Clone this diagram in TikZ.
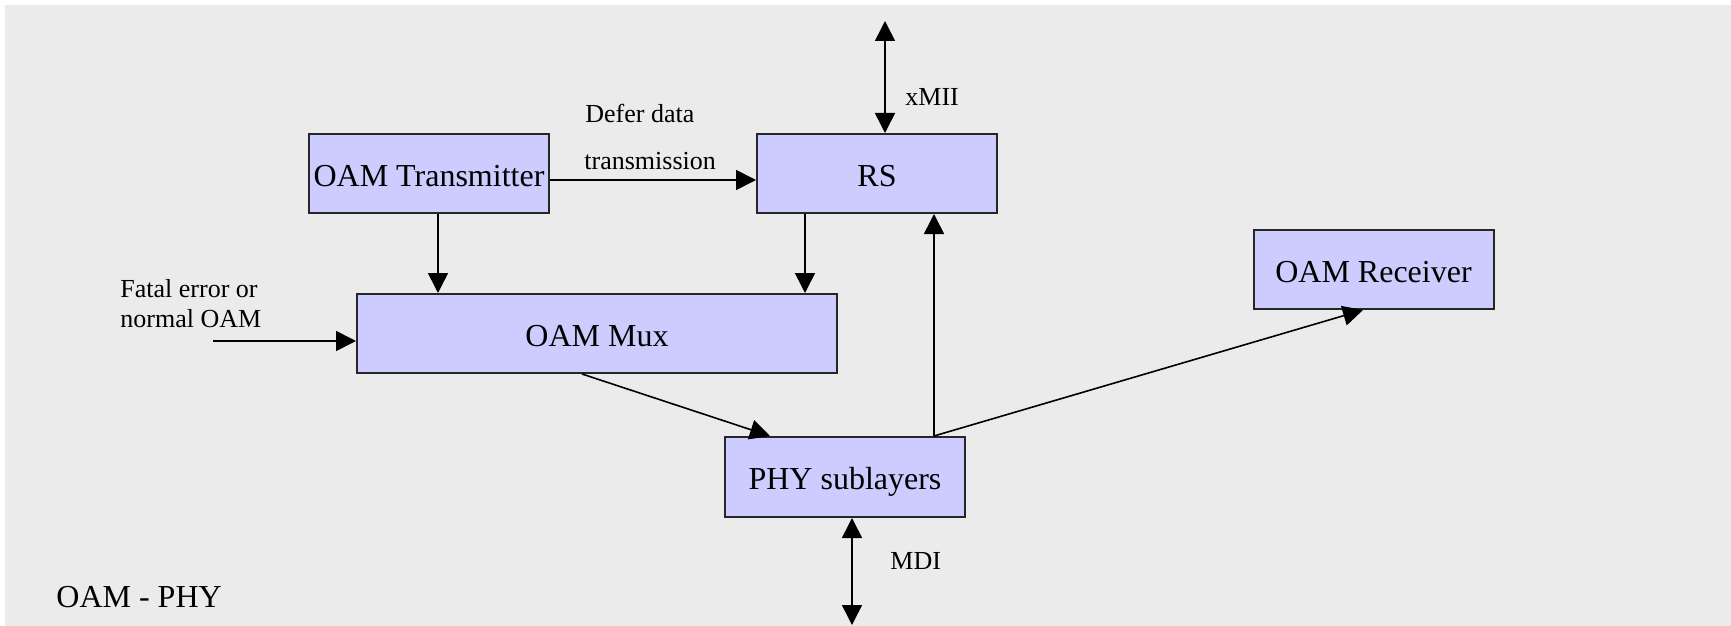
\documentclass[tikz,border=0pt]{standalone}
\usepackage{fontspec}
\setmainfont{Liberation Serif}
\usetikzlibrary{arrows.meta}
\definecolor{panel}{HTML}{EBEBEB}
\definecolor{boxfill}{HTML}{CCCCFF}
\definecolor{boxline}{HTML}{262626}
\tikzset{
  block/.style={draw=boxline, fill=boxfill, line width=1pt, rectangle,
    minimum width=120pt, minimum height=39.5pt, inner sep=0pt,
    text height=13pt, text depth=0.5pt,
    font=\fontsize{16}{19}\selectfont},
  arr/.style={line width=0.8pt, -{Triangle[length=10pt,width=10pt]}},
  darr/.style={line width=0.8pt, {Triangle[length=10pt,width=10pt]}-{Triangle[length=10pt,width=10pt]}},
  lbl/.style={anchor=west, inner sep=0pt, font=\fontsize{13}{15}\selectfont},
}
\begin{document}
\begin{tikzpicture}[x=0.5pt, y=-0.5pt]
  \useasboundingbox (0,0) rectangle (1731,626);
  \fill[white] (0,0) rectangle (1731,626);
  \fill[panel] (5,5) rectangle (1731,626);

  % blocks
  \node[block] (tx)  at (429,173.5)  {OAM Transmitter};
  \node[block] (rs)  at (877,173.5)  {RS};
  \node[block, minimum width=240pt] (mux) at (597,333.5) {OAM Mux};
  \node[block] (rx)  at (1373.5,269.5) {OAM Receiver};
  \node[block, minimum height=40pt] (phy) at (845,477) {PHY sublayers};

  % helper coordinates for connector positions
  \coordinate (xmiitop) at (885,21);
  \coordinate (mdibot)  at (852,625);
  \coordinate (fatal)   at (213,341);
  \coordinate (deferY)  at (0,180);
  \coordinate (txX)     at (438,0);
  \coordinate (rsX)     at (805,0);
  \coordinate (upX)     at (934,0);
  \coordinate (muxOut)  at (582,0);
  \coordinate (phyIn)   at (770,0);
  \coordinate (rxIn)    at (1363,0);

  % connectors
  \draw[darr] (xmiitop) -- (xmiitop |- rs.north);
  \draw[arr] (tx.east |- deferY) -- (rs.west |- deferY);
  \draw[arr] (tx.south -| txX) -- (mux.north -| txX);
  \draw[arr] (rs.south -| rsX) -- (mux.north -| rsX);
  \draw[arr] (fatal) -- (mux.west |- fatal);
  \draw[arr] (mux.south -| muxOut) -- (phy.north -| phyIn);
  \draw[arr] (phy.north -| upX) -- (rs.south -| upX);
  \draw[arr] (phy.north -| upX) -- (rx.south -| rxIn);
  \draw[darr] (phy.south -| mdibot) -- (mdibot);

  % labels
  \node[lbl] (lxmii)  at (905,97)  {xMII};
  \node[lbl] (ldef1)  at (585,113) {Defer data};
  \node[lbl] (ldef2)  at (584,161) {transmission};
  \node[lbl] (lfat1)  at (120,289) {Fatal error or};
  \node[lbl] (lfat2)  at (120,319) {normal OAM};
  \node[lbl] (lmdi)   at (890,561) {MDI};
  \node[lbl, font=\fontsize{16}{19}\selectfont] (ltitle) at (56,597) {OAM - PHY};
\end{tikzpicture}
\end{document}
